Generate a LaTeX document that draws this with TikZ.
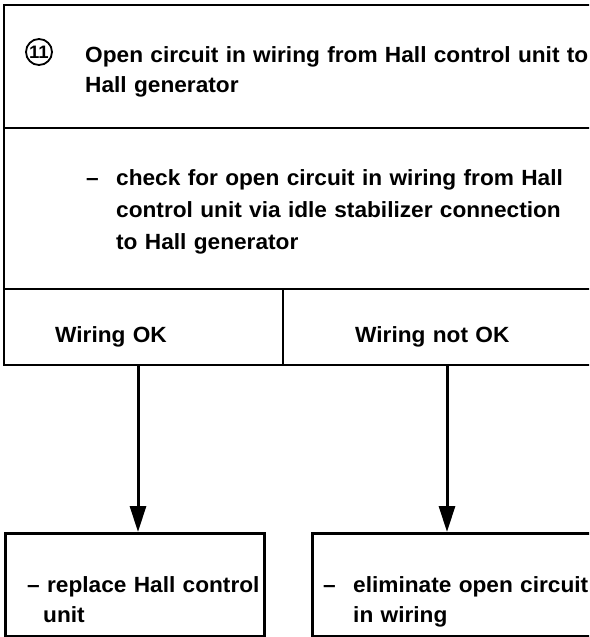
\documentclass[tikz,border=0pt]{standalone}
\usepackage{fontspec}
\setmainfont{Liberation Sans}[FakeStretch=1.03]
\usetikzlibrary{arrows.meta}
\begin{document}
\begin{tikzpicture}[x=1pt, y=-1pt,
	frame/.style = {line width=2.6pt},
	box/.style = {draw, line width=2.6pt, inner sep=0pt, minimum height=103pt, anchor=north west},
	txt/.style = {anchor=base west, inner sep=0pt, align=left, text width=540pt, font=\bfseries\fontsize{22}{30}\selectfont},
	arrow/.style = {line width=3pt, -{Triangle[length=26pt, width=16pt]}}]
	\useasboundingbox (0,0) rectangle (589,637);
	\clip (0,0) rectangle (589,637);
	% table at the top
	\draw[frame] (600,5) -- (4,5) -- (4,365) -- (600,365);
	\draw[frame] (4,128) -- (600,128);
	\draw[frame] (4,289) -- (600,289);
	\draw[frame] (283,289) -- (283,365);
	\node (num) at (39,52) [circle, draw, line width=1.8pt, minimum size=26pt, inner sep=0pt, font=\bfseries\fontsize{18}{18}\selectfont] {11};
	\node (title) at (85,62) [txt] {Open circuit in wiring from Hall control unit to\\Hall generator};
	\node (check) at (86,185) [txt, font=\bfseries\fontsize{22}{32}\selectfont] {\makebox[30pt][l]{\textendash}check for open circuit in wiring from Hall\\\hspace*{30pt}control unit via idle stabilizer connection\\\hspace*{30pt}to Hall generator};
	\node (ok) at (55,342) [txt] {Wiring OK};
	\node (notok) at (355,342) [txt] {Wiring not OK};
	% boxes at the bottom
	\node (lbox) at (4,532) [box, minimum width=259pt] {};
	\node (rbox) at (311,532) [box, minimum width=300pt] {};
	\node (repl) at (27,592) [txt] {\textendash{} replace Hall control\\\hspace*{16pt}unit};
	\node (elim) at (323,592) [txt] {\makebox[30pt][l]{\textendash}eliminate open circuit\\\hspace*{30pt}in wiring};
	\coordinate (a1) at (138,365);
	\coordinate (a2) at (447,365);
	\draw[arrow] (a1) -- (a1 |- lbox.north);
	\draw[arrow] (a2) -- (a2 |- rbox.north);
\end{tikzpicture}
\end{document}
